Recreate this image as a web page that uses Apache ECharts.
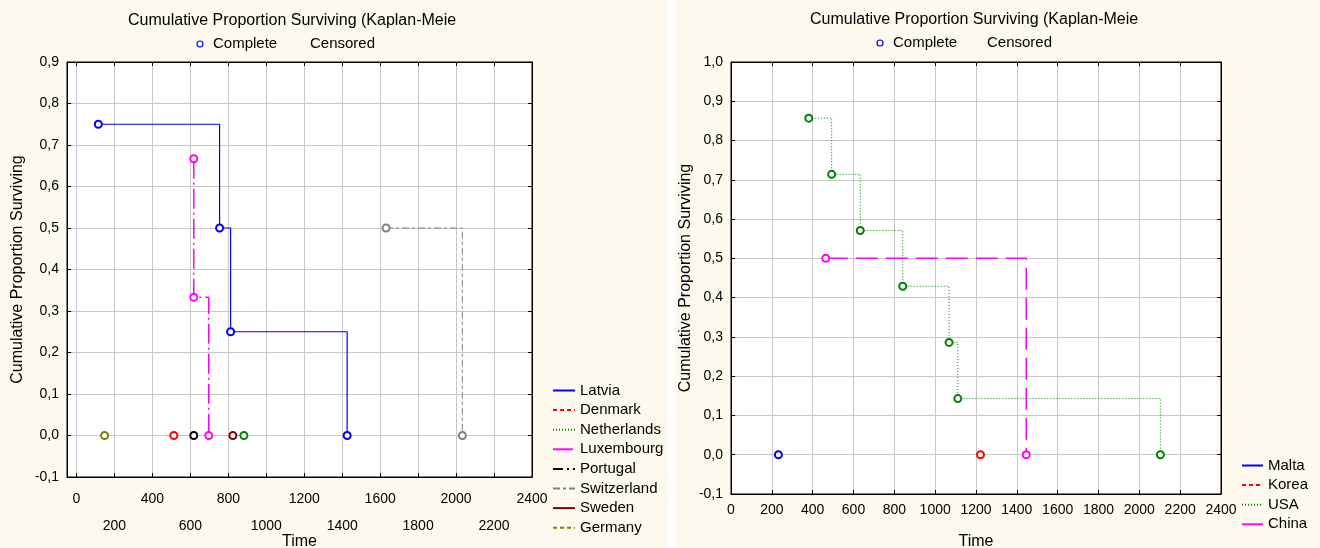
<!DOCTYPE html>
<html>
<head>
<meta charset="utf-8">
<script src="https://cdn.jsdelivr.net/npm/echarts@6/dist/echarts.min.js"></script>
<style>
  html, body { margin: 0; padding: 0; background: #fdf9ef; }
  #km { width: 1320px; height: 548px; }
</style>
</head>
<body>
<div id="km"></div>
<script>
// ---- data ----
// left panel
const latviaTime = [115, 754, 812, 1426];
const latviaSurv = [0.75, 0.5, 0.25, 0];
const denmarkTime = [513];
const denmarkSurv = [0];
const netherlandsTime = [882];
const netherlandsSurv = [0];
const luxembourgTime = [618, 618, 697];
const luxembourgSurv = [0.667, 0.333, 0];
const portugalTime = [618];
const portugalSurv = [0];
const switzerlandTime = [1631, 2033];
const switzerlandSurv = [0.5, 0];
const swedenTime = [824];
const swedenSurv = [0];
const germanyTime = [148];
const germanySurv = [0];

// right panel
const maltaTime = [232];
const maltaSurv = [0];
const koreaTime = [1222];
const koreaSurv = [0];
const usaTime = [381, 493, 633, 841, 1068, 1111, 2103];
const usaSurv = [0.857, 0.714, 0.571, 0.429, 0.286, 0.143, 0];
const chinaTime = [464, 1446];
const chinaSurv = [0.5, 0];

const timeTicks = [0, 200, 400, 600, 800, 1000, 1200, 1400, 1600, 1800, 2000, 2200, 2400];
const leftNames = ['Latvia', 'Denmark', 'Netherlands', 'Luxembourg', 'Portugal', 'Switzerland', 'Sweden', 'Germany'];
const rightNames = ['Malta', 'Korea', 'USA', 'China'];

const FONT = 'Liberation Sans';
const GRIDC = '#c8c8c8';

function pairs(t, s) {
	return t.map(function (v, i) { return [v, s[i]]; });
}
function comma(v) {
	return (Math.round(v * 10) / 10).toFixed(1).replace('.', ',');
}

function km(name, t, s, color, type, width, xi, yi) {
	return {
		name: name,
		type: 'line',
		step: 'end',
		xAxisIndex: xi,
		yAxisIndex: yi,
		data: pairs(t, s),
		symbol: 'emptyCircle',
		symbolSize: 7,
		showAllSymbol: true,
		lineStyle: { color: color, width: width || 1, type: type },
		itemStyle: { color: color, borderWidth: 1.2 },
		emphasis: { disabled: true }
	};
}

function frameX(grid, min, pos) {
	return {
		type: 'value', gridIndex: grid, min: min, max: 2400, position: pos,
		axisLine: { show: true, onZero: false, lineStyle: { color: '#000' } },
		axisTick: { show: true, inside: true, length: 4, customValues: timeTicks, lineStyle: { color: '#000' } },
		axisLabel: { show: false },
		splitLine: { show: false }
	};
}
function frameY(grid, max, pos) {
	return {
		type: 'value', gridIndex: grid, min: -0.1, max: max, interval: 0.1, position: pos,
		axisLine: { show: true, onZero: false, lineStyle: { color: '#000' } },
		axisTick: { show: true, inside: true, length: 4, lineStyle: { color: '#000' } },
		axisLabel: { show: false },
		splitLine: { show: false }
	};
}

const nameTxt = { fontFamily: FONT, fontSize: 16, color: '#000' };
const legTxt = { fontFamily: FONT, fontSize: 15, color: '#000' };
const tickTxt = { fontFamily: FONT, fontSize: 14, color: '#000' };

let chart = echarts.init(document.getElementById('km'));
let option = {
	animation: false,
	backgroundColor: '#fdf9ef',
	textStyle: { fontFamily: FONT },
	grid: [
		{ left: 67, right: 788, top: 62, bottom: 71, outerBoundsMode: 'none', show: true, backgroundColor: '#fff', borderColor: '#000', borderWidth: 1 },
		{ left: 731, right: 99, top: 62, bottom: 54, outerBoundsMode: 'none', show: true, backgroundColor: '#fff', borderColor: '#000', borderWidth: 1 }
	],
	xAxis: [
		{
			type: 'value', gridIndex: 0, min: -50, max: 2400,
			name: 'Time', nameLocation: 'middle', nameGap: 57, nameMoveOverlap: false, nameTextStyle: nameTxt,
			axisLine: { show: true, onZero: false, lineStyle: { color: '#000' } },
			axisTick: { show: true, inside: true, length: 4, customValues: timeTicks, lineStyle: { color: '#000' } },
			axisLabel: Object.assign({
				customValues: timeTicks, margin: 9, lineHeight: 27,
				formatter: function (v) { return v % 400 === 0 ? String(v) : '\n' + v; }
			}, tickTxt),
			splitLine: { show: true, lineStyle: { color: GRIDC } }
		},
		frameX(0, -50, 'top'),
		{
			type: 'value', gridIndex: 1, min: 0, max: 2400, interval: 200,
			name: 'Time', nameLocation: 'middle', nameGap: 40, nameMoveOverlap: false, nameTextStyle: nameTxt,
			axisLine: { show: true, onZero: false, lineStyle: { color: '#000' } },
			axisTick: { show: true, inside: true, length: 4, lineStyle: { color: '#000' } },
			axisLabel: Object.assign({ margin: 9, formatter: function (v) { return String(v); } }, tickTxt),
			splitLine: { show: true, lineStyle: { color: GRIDC } }
		},
		frameX(1, 0, 'top')
	],
	yAxis: [
		{
			type: 'value', gridIndex: 0, min: -0.1, max: 0.9, interval: 0.1,
			name: 'Cumulative Proportion Surviving', nameLocation: 'middle', nameGap: 41, nameMoveOverlap: false, nameTextStyle: nameTxt,
			axisLine: { show: true, onZero: false, lineStyle: { color: '#000' } },
			axisTick: { show: true, inside: true, length: 4, lineStyle: { color: '#000' } },
			axisLabel: Object.assign({ margin: 8, formatter: comma }, tickTxt),
			splitLine: { show: true, lineStyle: { color: GRIDC } }
		},
		frameY(0, 0.9, 'right'),
		{
			type: 'value', gridIndex: 1, min: -0.1, max: 1.0, interval: 0.1,
			name: 'Cumulative Proportion Surviving', nameLocation: 'middle', nameGap: 37, nameMoveOverlap: false, nameTextStyle: nameTxt,
			axisLine: { show: true, onZero: false, lineStyle: { color: '#000' } },
			axisTick: { show: true, inside: true, length: 4, lineStyle: { color: '#000' } },
			axisLabel: Object.assign({ margin: 8, formatter: comma }, tickTxt),
			splitLine: { show: true, lineStyle: { color: GRIDC } }
		},
		frameY(1, 1.0, 'right')
	],
	legend: [
		{
			data: leftNames, orient: 'vertical', left: 552, top: 383, padding: 0,
			itemWidth: 22, itemHeight: 14, itemGap: 4.6,
			itemStyle: { opacity: 0 }, textStyle: legTxt, selectedMode: false
		},
		{
			data: rightNames, orient: 'vertical', left: 1241, top: 458, padding: 0,
			itemWidth: 21, itemHeight: 14, itemGap: 4.6,
			itemStyle: { opacity: 0 }, textStyle: legTxt, selectedMode: false
		}
	],
	graphic: [
		{ type: 'rect', shape: { x: 668, y: 0, width: 7, height: 548 }, style: { fill: '#ffffff' }, silent: true },
		{ type: 'text', left: 128, top: 13, style: { text: 'Cumulative Proportion Surviving (Kaplan-Meie', font: '16px ' + FONT, fill: '#000' } },
		{ type: 'circle', shape: { cx: 200, cy: 44, r: 3 }, style: { fill: 'none', stroke: '#0000ff', lineWidth: 1.2 } },
		{ type: 'text', left: 213, top: 36, style: { text: 'Complete', font: '15px ' + FONT, fill: '#000' } },
		{ type: 'text', left: 310, top: 36, style: { text: 'Censored', font: '15px ' + FONT, fill: '#000' } },
		{ type: 'text', left: 810, top: 12, style: { text: 'Cumulative Proportion Surviving (Kaplan-Meie', font: '16px ' + FONT, fill: '#000' } },
		{ type: 'circle', shape: { cx: 880, cy: 43, r: 3 }, style: { fill: 'none', stroke: '#0000ff', lineWidth: 1.2 } },
		{ type: 'text', left: 893, top: 35, style: { text: 'Complete', font: '15px ' + FONT, fill: '#000' } },
		{ type: 'text', left: 987, top: 35, style: { text: 'Censored', font: '15px ' + FONT, fill: '#000' } }
	],
	series: [
		km('Latvia', latviaTime, latviaSurv, '#0000ff', 'solid', 1.2, 0, 0),
		km('Denmark', denmarkTime, denmarkSurv, '#ff0000', [4, 3], 1, 0, 0),
		km('Netherlands', netherlandsTime, netherlandsSurv, '#008000', [1, 2], 1, 0, 0),
		km('Luxembourg', luxembourgTime, luxembourgSurv, '#ff00ff', [20, 4, 2, 4], 1.5, 0, 0),
		km('Portugal', portugalTime, portugalSurv, '#000000', [10, 4, 2, 4], 1, 0, 0),
		km('Switzerland', switzerlandTime, switzerlandSurv, '#808080', [7, 3, 3, 3], 1, 0, 0),
		km('Sweden', swedenTime, swedenSurv, '#800000', 'solid', 1, 0, 0),
		km('Germany', germanyTime, germanySurv, '#808000', [4, 3], 1, 0, 0),
		km('Malta', maltaTime, maltaSurv, '#0000ff', 'solid', 1.2, 2, 2),
		km('Korea', koreaTime, koreaSurv, '#ff0000', [4, 3], 1, 2, 2),
		km('USA', usaTime, usaSurv, '#008000', [1, 2], 1, 2, 2),
		km('China', chinaTime, chinaSurv, '#ff00ff', [22, 8], 1.5, 2, 2)
	]
};
chart.setOption(option);
</script>
</body>
</html>
